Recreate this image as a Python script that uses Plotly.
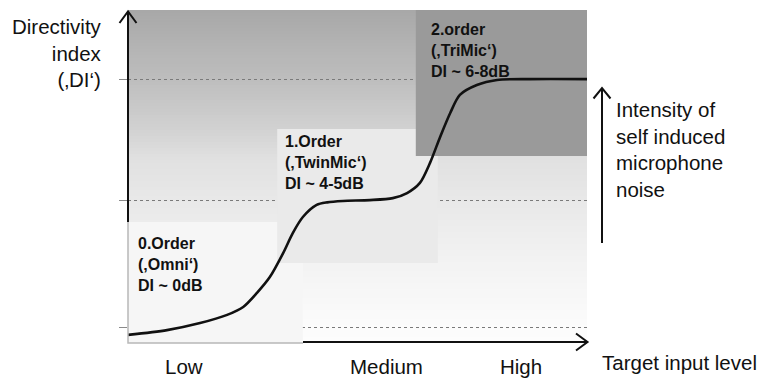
import numpy as np
import plotly.graph_objects as go

W, H = 765, 378

# ---------------- data (schematic DI curve) ----------------
input_level = [0, 8.5, 15.7, 21.6, 25.1, 28.1, 30.9, 33.8, 35.9, 38.1, 41.1, 43.4,
               46.8, 52.7, 57.7, 60.8, 63.6, 65.8, 68.0, 70.2, 72.3, 76.0, 80.4, 87.6, 100]
di_value = [-0.28, -0.11, 0.14, 0.43, 0.71, 1.21, 1.77, 2.62, 3.33, 3.90, 4.33, 4.42,
            4.47, 4.50, 4.57, 4.75, 5.11, 5.82, 6.74, 7.59, 8.23, 8.58, 8.76, 8.79, 8.79]
ref_levels = [0, 4.5, 8.76]
level_labels = ["Low", "Medium", "High"]
level_positions = [12.2, 56.4, 85.6]
order_labels = ["0.Order<br>(‚Omni‘)<br>DI ~ 0dB",
                "1.Order<br>(‚TwinMic‘)<br>DI ~ 4-5dB",
                "2.order<br>(‚TriMic‘)<br>DI ~ 6-8dB"]
y_title = "Directivity<br>index<br>(‚DI‘)"
x_title = "Target input level"
noise_text = "Intensity of<br>self induced<br>microphone<br>noise"

# ---------------- layout helpers ----------------
X_RANGE = [0, 100]
Y_RANGE = [-0.567, 11.241]
XDOM = [128 / W, 587 / W]
YDOM = [1 - 343 / H, 1 - 10 / H]
FONT = "Liberation Sans, Arial, Helvetica, sans-serif"


def px(x):
    return x / W


def py(y):
    return 1 - y / H


shapes = []

# vertical grey gradient background
keys_y = [10, 80, 130, 160, 200, 260, 300, 330, 343]
keys_g = [168, 190, 210, 225, 232, 242, 248, 252, 253]
for y in range(10, 343, 3):
    g = int(round(np.interp(y + 1.5, keys_y, keys_g)))
    shapes.append(dict(type="rect", xref="paper", yref="paper", layer="below",
                       x0=px(128), x1=px(587), y0=py(y), y1=py(min(y + 3.6, 343)),
                       line=dict(width=0), fillcolor=f"rgb({g},{g},{g})"))

# order regions (boxes), in data coordinates, drawn above the grid lines
boxes = [
    dict(x0=0, x1=38.1, y0=-0.567, y1=3.72, c="#f6f6f6"),
    dict(x0=32.5, x1=67.5, y0=2.27, y1=7.02, c="#eaeaea"),
    dict(x0=62.7, x1=100, y0=6.06, y1=11.241, c="#9a9a9a"),
]
for b in boxes:
    shapes.append(dict(type="rect", xref="x", yref="y", layer="between",
                       x0=b["x0"], x1=b["x1"], y0=b["y0"], y1=b["y1"],
                       line=dict(width=0), fillcolor=b["c"]))

# thin border of the 0.Order box
shapes.append(dict(type="path", xref="paper", yref="paper", layer="above",
                   path=f"M {px(128)},{py(222)} L {px(128)},{py(343)} L {px(303)},{py(343)}",
                   line=dict(color="#b8b8b8", width=1.5)))

# y axis with open arrowhead
shapes.append(dict(type="path", xref="paper", yref="paper", layer="above",
                   path=f"M {px(128)},{py(222)} L {px(128)},{py(12)}",
                   line=dict(color="#111", width=2)))
shapes.append(dict(type="path", xref="paper", yref="paper", layer="above",
                   path=f"M {px(119.5)},{py(23)} L {px(128)},{py(11.5)} L {px(136.5)},{py(23)}",
                   line=dict(color="#111", width=2)))
# x axis with open arrowhead
shapes.append(dict(type="path", xref="paper", yref="paper", layer="above",
                   path=f"M {px(303)},{py(342)} L {px(587)},{py(342)}",
                   line=dict(color="#111", width=2)))
shapes.append(dict(type="path", xref="paper", yref="paper", layer="above",
                   path=f"M {px(576)},{py(333.5)} L {px(587.5)},{py(342)} L {px(576)},{py(350.5)}",
                   line=dict(color="#111", width=2)))
# noise arrow
shapes.append(dict(type="path", xref="paper", yref="paper", layer="above",
                   path=f"M {px(602)},{py(243)} L {px(602)},{py(89)}",
                   line=dict(color="#111", width=2)))
shapes.append(dict(type="path", xref="paper", yref="paper", layer="above",
                   path=f"M {px(593.5)},{py(98.5)} L {px(602)},{py(88)} L {px(610.5)},{py(98.5)}",
                   line=dict(color="#111", width=2)))

annotations = []
annotations.append(dict(text=y_title, xref="paper", yref="paper", x=px(104), y=py(53),
                        xanchor="right", yanchor="middle", align="right", showarrow=False,
                        font=dict(family=FONT, size=20.5, color="#111")))
annotations.append(dict(text=noise_text, xref="paper", yref="paper", x=px(614), y=py(150),
                        xanchor="left", yanchor="middle", align="left", showarrow=False,
                        font=dict(family=FONT, size=20.5, color="#111")))
annotations.append(dict(text=x_title, xref="paper", yref="paper", x=px(600), y=py(362),
                        xanchor="left", yanchor="middle", align="left", showarrow=False,
                        font=dict(family=FONT, size=20.5, color="#111")))
order_pos = [(136, 264), (283, 163), (429, 51)]
for t, (ox, oy) in zip(order_labels, order_pos):
    annotations.append(dict(text=f"<b>{t}</b>", xref="paper", yref="paper", x=px(ox), y=py(oy),
                            xanchor="left", yanchor="middle", align="left", showarrow=False,
                            font=dict(family=FONT, size=16, color="#111")))
for lab, pos in zip(level_labels, level_positions):
    annotations.append(dict(text=lab, xref="x", yref="paper", x=pos, y=py(366),
                            xanchor="center", yanchor="middle", showarrow=False,
                            font=dict(family=FONT, size=20.5, color="#111")))

fig = go.Figure()
fig.add_trace(go.Scatter(x=input_level, y=di_value, mode="lines",
                         line=dict(color="#111", width=2.6, shape="spline", smoothing=0.8),
                         hoverinfo="skip", showlegend=False))

fig.update_layout(
    width=W, height=H, autosize=False,
    margin=dict(l=0, r=0, t=0, b=0),
    paper_bgcolor="white", plot_bgcolor="rgba(0,0,0,0)",
    showlegend=False,
    xaxis=dict(domain=XDOM, range=X_RANGE, visible=False, fixedrange=True),
    yaxis=dict(domain=YDOM, range=Y_RANGE, tickvals=ref_levels, showticklabels=False,
               showgrid=True, gridcolor="#7a7a7a", griddash="dot", gridwidth=1,
               ticks="outside", ticklen=8, tickcolor="#8a8a8a", tickwidth=1,
               showline=False, zeroline=False, fixedrange=True),
    shapes=shapes,
    annotations=annotations,
)

fig.write_html("out.html", config={"displayModeBar": False},
               post_script="document.body.style.margin='0';document.body.style.overflow='hidden';")
